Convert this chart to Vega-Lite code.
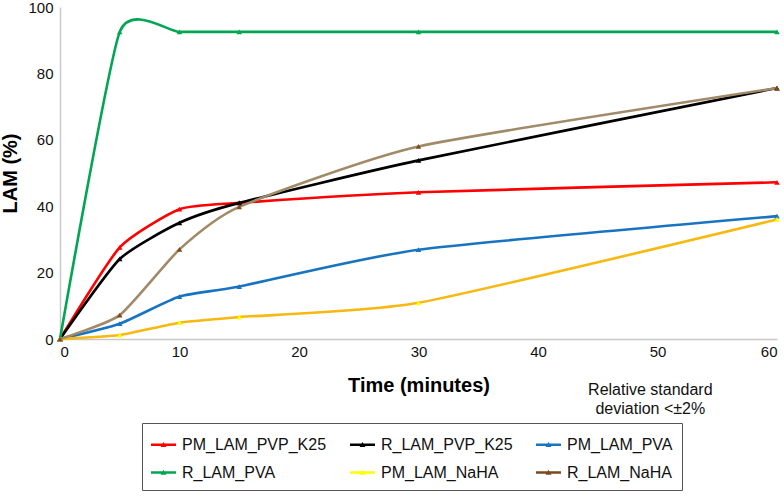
{
  "$schema": "https://vega.github.io/schema/vega-lite/v6.json",
  "width": 717,
  "height": 332,
  "autosize": "none",
  "padding": {"left": 60, "top": 7, "right": 7, "bottom": 158},
  "background": "white",
  "config": {
    "font": "Liberation Sans",
    "view": {"stroke": null},
    "axis": {"grid": false, "domainColor": "#c8c8c8", "domainWidth": 1.5, "ticks": false, "labelFontSize": 15, "labelColor": "#111", "titleFontSize": 20, "titleFontWeight": "bold", "titleColor": "#000"}
  },
  "data": {
    "values": [
      {"series": "PM_LAM_PVP_K25", "time": 0, "lam": 0},
      {"series": "PM_LAM_PVP_K25", "time": 5, "lam": 27.6},
      {"series": "PM_LAM_PVP_K25", "time": 10, "lam": 39.1},
      {"series": "PM_LAM_PVP_K25", "time": 15, "lam": 41.0},
      {"series": "PM_LAM_PVP_K25", "time": 30, "lam": 44.2},
      {"series": "PM_LAM_PVP_K25", "time": 60, "lam": 47.2},
      {"series": "R_LAM_PVP_K25", "time": 0, "lam": 0},
      {"series": "R_LAM_PVP_K25", "time": 5, "lam": 24.1},
      {"series": "R_LAM_PVP_K25", "time": 10, "lam": 35.0},
      {"series": "R_LAM_PVP_K25", "time": 15, "lam": 41.0},
      {"series": "R_LAM_PVP_K25", "time": 30, "lam": 53.8},
      {"series": "R_LAM_PVP_K25", "time": 60, "lam": 75.6},
      {"series": "PM_LAM_PVA", "time": 0, "lam": 0},
      {"series": "PM_LAM_PVA", "time": 5, "lam": 4.6},
      {"series": "PM_LAM_PVA", "time": 10, "lam": 12.8},
      {"series": "PM_LAM_PVA", "time": 15, "lam": 15.8},
      {"series": "PM_LAM_PVA", "time": 30, "lam": 26.9},
      {"series": "PM_LAM_PVA", "time": 60, "lam": 37.0},
      {"series": "R_LAM_PVA", "time": 0, "lam": 0},
      {"series": "R_LAM_PVA", "time": 5, "lam": 92.5},
      {"series": "R_LAM_PVA", "time": 10, "lam": 92.5},
      {"series": "R_LAM_PVA", "time": 15, "lam": 92.5},
      {"series": "R_LAM_PVA", "time": 30, "lam": 92.5},
      {"series": "R_LAM_PVA", "time": 60, "lam": 92.5},
      {"series": "PM_LAM_NaHA", "time": 0, "lam": 0},
      {"series": "PM_LAM_NaHA", "time": 5, "lam": 1.2},
      {"series": "PM_LAM_NaHA", "time": 10, "lam": 4.9},
      {"series": "PM_LAM_NaHA", "time": 15, "lam": 6.6},
      {"series": "PM_LAM_NaHA", "time": 30, "lam": 10.9},
      {"series": "PM_LAM_NaHA", "time": 60, "lam": 36.0},
      {"series": "R_LAM_NaHA", "time": 0, "lam": 0},
      {"series": "R_LAM_NaHA", "time": 5, "lam": 7.2},
      {"series": "R_LAM_NaHA", "time": 10, "lam": 27.0},
      {"series": "R_LAM_NaHA", "time": 15, "lam": 39.8},
      {"series": "R_LAM_NaHA", "time": 30, "lam": 58.0},
      {"series": "R_LAM_NaHA", "time": 60, "lam": 75.6}
    ]
  },
  "layer": [
    {
      "mark": {"type": "line", "interpolate": "cardinal", "tension": 0.45, "strokeWidth": 2.6},
      "encoding": {
        "x": {"field": "time", "type": "quantitative", "scale": {"domain": [0, 60], "nice": false}, "axis": {"values": [0, 10, 20, 30, 40, 50, 60], "title": "Time (minutes)", "labelPadding": 5, "titleBaseline": "alphabetic", "titleY": 52}},
        "y": {"field": "lam", "type": "quantitative", "scale": {"domain": [0, 100], "nice": false}, "axis": {"values": [0, 20, 40, 60, 80, 100], "title": "LAM (%)", "labelPadding": 7, "titleBaseline": "alphabetic", "titleX": -44}},
        "stroke": {
          "field": "series", "type": "nominal",
          "scale": {"domain": ["PM_LAM_PVP_K25", "R_LAM_PVP_K25", "PM_LAM_PVA", "R_LAM_PVA", "PM_LAM_NaHA", "R_LAM_NaHA"], "range": ["#ff0000", "#000000", "#1874c0", "#00a651", "#f7b80f", "#a08a68"]},
          "legend": {
            "title": null, "orient": "none", "direction": "horizontal", "legendX": 82, "legendY": 416, "columns": 3, "columnPadding": 23, "rowPadding": 7,
            "padding": 9, "strokeColor": "#555", "labelFontSize": 16, "labelColor": "#111", "labelOffset": 6,
            "symbolType": "M-1,-0.1H1V0.1H-1Z M-0.24,0.18L0,-0.22L0.24,0.18Z", "symbolSize": 625,
            "encode": {"symbols": {"update": {"fill": {"scale": "stroke", "field": "value"}, "strokeWidth": {"value": 0}, "shape": {"value": "M-1,-0.1H1V0.1H-1Z M-0.24,0.18L0,-0.22L0.24,0.18Z"}}}}
          }
        }
      }
    },
    {
      "mark": {"type": "point", "shape": "triangle-up", "filled": true, "size": 30, "opacity": 1},
      "encoding": {
        "x": {"field": "time", "type": "quantitative"},
        "y": {"field": "lam", "type": "quantitative"},
        "fill": {
          "field": "series", "type": "nominal",
          "scale": {"domain": ["PM_LAM_PVP_K25", "R_LAM_PVP_K25", "PM_LAM_PVA", "R_LAM_PVA", "PM_LAM_NaHA", "R_LAM_NaHA"], "range": ["#ff0000", "#000000", "#1874c0", "#00a651", "#ffff00", "#7b4a1e"]},
          "legend": null
        }
      }
    },
    {
      "data": {"values": [{}]},
      "mark": {"type": "text", "fontSize": 16, "align": "center", "baseline": "alphabetic", "lineHeight": 19, "color": "#111"},
      "encoding": {
        "x": {"datum": 49.4, "type": "quantitative"},
        "y": {"datum": -17, "type": "quantitative"},
        "text": {"value": ["Relative standard", "deviation <±2%"]}
      }
    }
  ]
}
